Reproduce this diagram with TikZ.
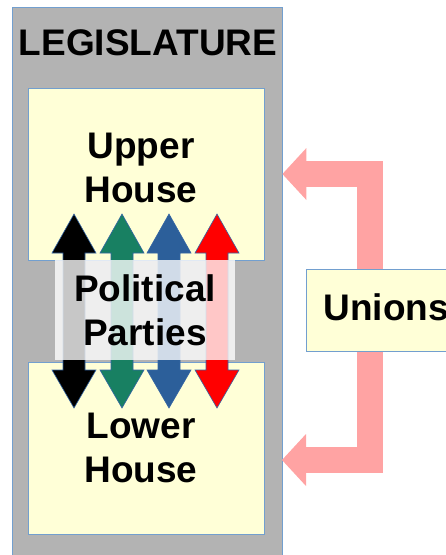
\documentclass[tikz,border=0pt]{standalone}
\usepackage{fontspec}
\setmainfont{Liberation Sans}
\usetikzlibrary{arrows.meta,positioning}
\definecolor{legisgray}{RGB}{179,179,179}
\definecolor{edgeblue}{RGB}{114,159,207}
\definecolor{houseyellow}{RGB}{255,255,215}
\definecolor{unionpink}{RGB}{255,163,163}
\definecolor{partygreen}{RGB}{24,128,98}
\definecolor{partyblue}{RGB}{44,95,154}
\definecolor{partyred}{RGB}{255,0,0}
\definecolor{tipedge}{RGB}{52,101,164}
\begin{document}
\begin{tikzpicture}[x=1pt,y=-1pt,
  box/.style={draw=edgeblue,line width=0.8pt,inner sep=0pt},
  housebox/.style={box,fill=houseyellow,minimum width=236pt,minimum height=172pt},
  big/.style={font=\fontsize{37}{44}\selectfont\bfseries},
  label/.style={big,align=center,inner sep=0pt},
  unionarrow/.style={draw=unionpink,line width=26pt,
    {Triangle[length=24pt,width=52pt,line width=0pt]}-{Triangle[length=24pt,width=52pt,line width=0pt]}}]
\useasboundingbox (0,0) rectangle (446,555);
\clip (0,0) rectangle (446,555);
\node[box,fill=legisgray,minimum width=270pt,minimum height=560pt] (legis) at (147,287) {};
\node[label] (title) at (148,42.5) {LEGISLATURE};
\node[housebox] (upper) at (146,174) {};
\node[housebox] (lower) at (146,448) {};
\node[label] (uppertext) at (141,167.5) {Upper\\House};
\node[label] (lowertext) at (141,447.5) {Lower\\House};
% party arrows
\foreach \x/\c in {74/black,122/partygreen,169/partyblue,217/partyred}
  \filldraw[fill=\c,draw=tipedge,line width=0.6pt](\x,214)--(\x+22,253)--(\x+11,253)--(\x+11,370)--(\x+22,370)--(\x,408)
    --(\x-22,370)--(\x-11,370)--(\x-11,253)--(\x-22,253)--cycle;
\node[label,fill=white,fill opacity=0.78,text opacity=1,minimum width=180pt,minimum height=100pt] (parties) at (145,310) {Political\\Parties};
% unions
\coordinate (uppertip) at (legis.east |- upper.east);
\coordinate (lowertip) at (282,460);
\draw[unionarrow](uppertip)-- ++(88,0) |- (lowertip);
\node[box,big,fill=houseyellow,anchor=west,minimum height=82pt,text width=150pt,inner xsep=17pt,align=left,text depth=6pt] (unions) at (306,310) {Unions};
\end{tikzpicture}
\end{document}
